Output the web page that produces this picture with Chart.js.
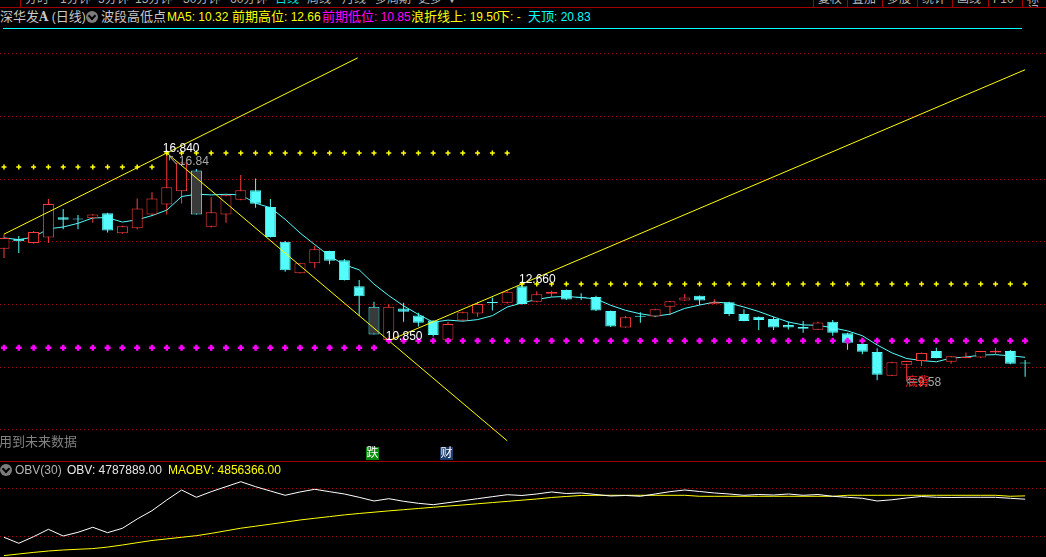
<!DOCTYPE html>
<html>
<head>
<meta charset="utf-8">
<script src="https://cdn.jsdelivr.net/npm/chart.js@4.4.1/dist/chart.umd.min.js"></script>
<style>
  body { margin: 0; background: #000; width: 1046px; height: 557px; overflow: hidden; position: relative;
         font-family: "Liberation Sans", "Noto Sans CJK SC", sans-serif; }
  .t { position: absolute; white-space: nowrap; font-size: 12px; line-height: 14px; }
  .t .c { font-size: 13px; }
  .bar { position: absolute; left: 0; top: 0; width: 1046px; height: 7px; overflow: hidden; border-bottom: 1px solid #a00000; }
  .bar span { position: absolute; top: -7px; font-size: 12px; line-height: 12px; color: #b4b4b4; }
  .sep { position: absolute; top: 0; width: 1px; height: 7px; background: #a00000; }
  .icon { position: absolute; width: 12px; height: 12px; border-radius: 50%; background: #7c7c7c; }
  .icon:after { content: ""; position: absolute; left: 3px; top: 2px; width: 4px; height: 4px;
                border-right: 2px solid #000; border-bottom: 2px solid #000; transform: rotate(45deg); }
  .tag { position: absolute; width: 13px; height: 13px; font-size: 12px; line-height: 13px; text-align: center; color: #fff; }
  canvas { position: absolute; left: 0; }
</style>
</head>
<body>
<div class="bar">
  <span style="left:25px">分时</span><span style="left:60px">1分钟</span><span style="left:98px">5分钟</span>
  <span style="left:135px">15分钟</span><span style="left:183px">30分钟</span><span style="left:230px">60分钟</span>
  <span style="left:275px;color:#00e0e0">日线</span><span style="left:307px">周线</span><span style="left:342px">月线</span>
  <span style="left:375px">多周期</span><span style="left:418px">更多</span><span style="left:446px">▼</span>
  <span style="left:818px">复权</span><span style="left:852px">叠加</span><span style="left:887px">多股</span>
  <span style="left:922px">统计</span><span style="left:957px">画线</span><span style="left:993px">F10</span><span style="left:1027px">标记</span>
</div>
<div class="sep" style="left:20px"></div>
<div class="sep" style="left:813px"></div><div class="sep" style="left:847px"></div><div class="sep" style="left:882px"></div>
<div class="sep" style="left:917px"></div><div class="sep" style="left:952px"></div><div class="sep" style="left:988px"></div>
<div class="sep" style="left:1022px"></div>

<div class="t" style="left:0;top:10px;color:#c8c8c8"><span class="c">深华发</span><b style="font-family:'DejaVu Serif'">A</b> (<span class="c">日线</span>)</div>
<div class="icon" style="left:86px;top:11px"></div>
<div class="t" style="left:101px;top:10px;color:#c8c8c8"><span class="c">波段高低点</span></div>
<div class="t" style="left:167px;top:10px;color:#ffff00">MA5: 10.32</div>
<div class="t" style="left:232px;top:10px;color:#ffff00"><span class="c">前期高位</span>: 12.66</div>
<div class="t" style="left:322px;top:10px;color:#ff00ff"><span class="c">前期低位</span>: 10.85</div>
<div class="t" style="left:411px;top:10px;color:#ffff00"><span class="c">浪折线上</span>: 19.50</div>
<div class="t" style="left:497px;top:10px;color:#ffff00"><span class="c">下</span>: -</div>
<div class="t" style="left:528px;top:10px;color:#00ffff"><span class="c">天顶</span>: 20.83</div>
<div style="position:absolute;left:3px;top:28px;width:1019px;height:1px;background:#00ffff"></div>

<canvas id="main" width="1046" height="430" style="top:30px"></canvas>

<div class="t" style="left:-1px;top:435px;color:#808080"><span class="c">用到未来数据</span></div>
<div class="tag" style="left:366px;top:447px;background:#0a8a0a">跌</div>
<div class="tag" style="left:440px;top:447px;background:#1c3c6c">财</div>
<div style="position:absolute;left:0;top:461px;width:1046px;height:1px;background:#a00000"></div>

<div class="icon" style="left:0;top:464px"></div>
<div class="t" style="left:15px;top:463px;color:#b4b4b4">OBV(30)</div>
<div class="t" style="left:67px;top:463px;color:#e6e6e6">OBV: 4787889.00</div>
<div class="t" style="left:168px;top:463px;color:#ffff00">MAOBV: 4856366.00</div>

<canvas id="obv" width="1046" height="95" style="top:462px"></canvas>

<script>
// daily candles
const opens  = [13.78,14.10,13.97,14.14,14.79,14.74,14.76,14.92,14.28,14.44,
                14.88,15.20,15.62,16.28,14.49,14.88,15.35,15.65,15.12,14.01,
                13.00,13.32,13.71,13.42,12.59,11.93,10.87,11.88,11.65,11.49,
                10.88,11.49,11.72,12.07,12.06,12.59,12.09,12.35,12.47,12.23,
                12.24,11.80,11.27,11.63,11.62,11.93,12.13,12.28,12.03,12.08,
                11.70,11.61,11.54,11.35,11.29,11.20,11.45,11.09,10.74,10.49,
                9.73,10.08,10.20,10.52,10.18,10.30,10.31,10.47,10.52,10.13];
const highs  = [14.25,14.19,14.35,15.37,15.05,14.86,14.89,14.93,14.52,15.39,
                15.59,16.84,16.56,16.33,15.43,15.50,16.14,16.03,15.37,14.03,
                13.33,13.88,13.72,13.46,12.79,12.09,12.02,12.06,11.74,11.50,
                11.45,11.78,12.09,12.23,12.43,12.66,12.43,12.44,12.48,12.36,
                12.28,11.81,11.64,11.76,11.87,12.12,12.34,12.29,12.17,12.09,
                11.85,11.62,11.61,11.45,11.48,11.45,11.51,11.10,10.75,10.61,
                10.18,10.21,10.47,10.62,10.36,10.47,10.53,10.62,10.55,10.23];
const lows   = [13.49,13.65,13.94,13.97,14.41,14.41,14.61,14.30,14.26,14.40,
                14.84,14.88,15.23,14.88,14.46,14.61,15.33,15.09,14.14,13.05,
                12.99,13.16,13.29,12.77,11.64,11.05,10.85,11.45,11.30,10.98,
                10.88,11.48,11.61,11.81,12.04,12.00,12.08,12.25,12.15,12.15,
                11.80,11.29,11.26,11.42,11.60,11.67,12.12,11.99,12.02,11.64,
                11.47,11.19,11.19,11.21,11.10,11.19,11.01,10.56,10.42,9.59,
                9.72,9.58,10.04,10.29,10.11,10.29,10.30,10.42,10.10,9.70];
const closes = [14.13,14.02,14.32,15.21,14.71,14.72,14.88,14.37,14.50,15.07,
                15.39,15.75,16.54,14.88,14.95,15.49,15.65,15.22,14.16,13.10,
                13.32,13.77,13.40,12.79,12.27,11.05,11.93,11.77,11.42,11.03,
                11.38,11.76,12.02,12.05,12.41,12.02,12.33,12.40,12.16,12.22,
                11.81,11.30,11.60,11.61,11.85,12.11,12.23,12.13,12.08,11.70,
                11.48,11.51,11.27,11.27,11.23,11.43,11.10,10.78,10.50,9.76,
                10.16,10.20,10.46,10.30,10.35,10.32,10.52,10.53,10.11,10.12];
// bars the indicator paints grey
const markedBars = [13, 25];

// stepped support / resistance levels (price, first bar)
const highLevels = [16.39, 16.84, 12.66];
const highLevelStart = [0, 11, 35];
const lowLevels = [10.62, 10.85];
const lowLevelStart = [0, 26];

// wave trend lines: anchor bar/price, second bar/price, last bar drawn
const waveFrom    = [[0, 14.25], [11, 16.84], [26, 10.85]];
const waveThrough = [[11, 16.84], [26, 10.85], [35, 12.66]];
const waveEnd     = [23.9, 34, 69];

const priceGrid = [8, 10, 12, 14, 16, 18, 20];

// OBV panel
const obv = [3994000,3869000,4006000,4160000,4021000,4098000,4202000,4090000,4181000,4375000,
             4548000,4771000,4979000,4827000,4944000,5048000,5152000,5048000,4958000,4869000,
             4938000,4994000,4944000,4896000,4827000,4750000,4798000,4744000,4702000,4673000,
             4715000,4756000,4798000,4840000,4881000,4865000,4896000,4938000,4906000,4917000,
             4885000,4854000,4865000,4848000,4896000,4944000,4979000,4948000,4917000,4896000,
             4869000,4885000,4875000,4896000,4869000,4885000,4848000,4827000,4806000,4750000,
             4775000,4813000,4844000,4827000,4823000,4827000,4827000,4827000,4806000,4787889];
const maObv = [3612000,3646000,3679000,3708000,3729000,3744000,3758000,3790000,3833000,3881000,
               3927000,3960000,3994000,4027000,4075000,4129000,4183000,4225000,4267000,4310000,
               4354000,4390000,4425000,4460000,4490000,4517000,4544000,4569000,4594000,4619000,
               4644000,4667000,4692000,4717000,4742000,4767000,4792000,4823000,4844000,4865000,
               4869000,4869000,4869000,4869000,4869000,4869000,4869000,4848000,4848000,4848000,
               4848000,4848000,4848000,4848000,4848000,4848000,4848000,4869000,4869000,4869000,
               4869000,4869000,4869000,4869000,4869000,4869000,4869000,4869000,4848000,4856366];
const obvGrid = [4000000, 5000000];

const RED = '#ff3c3c', CYAN = '#54fcfc', YELLOW = '#ffff00', MAGENTA = '#ff00ff', GRID = '#b00000';
const X_MIN = -0.27, X_MAX = 70.41;

const idx = closes.map((c, i) => i);
const up = idx.map(i => closes[i] >= opens[i]);
const ma5 = idx.map(i => {
  const s = closes.slice(Math.max(0, i - 4), i + 1);
  return s.reduce((a, b) => a + b, 0) / s.length;
});

function levelPoints(prices, starts, lastBar) {
  const pts = [];
  prices.forEach((p, k) => {
    const end = k + 1 < starts.length ? starts[k + 1] - 1 : lastBar;
    for (let i = starts[k]; i <= end; i++) pts.push({ x: i, y: p });
  });
  return pts;
}

function waveLine(k) {
  const [x0, y0] = waveFrom[k], [x1, y1] = waveThrough[k];
  const slope = (y1 - y0) / (x1 - x0);
  return [{ x: x0, y: y0 }, { x: waveEnd[k], y: y0 + slope * (waveEnd[k] - x0) }];
}

const gridY = (ticks, extra) => Object.assign({
  position: 'right',
  ticks: { display: false },
  grid: { color: GRID, lineWidth: 1, drawTicks: false },
  border: { display: false, dash: [1, 3] },
  afterBuildTicks: s => { s.ticks = ticks.map(v => ({ value: v })); }
}, extra);

const labelPlugin = {
  id: 'priceLabels',
  afterDatasetsDraw(chart) {
    const { ctx, scales: { x, y } } = chart;
    ctx.save();
    ctx.font = '12px "Liberation Sans", "Noto Sans CJK SC", sans-serif';
    ctx.textBaseline = 'alphabetic';
    ctx.fillStyle = '#ffffff';
    ctx.fillText(highs[11].toFixed(3), x.getPixelForValue(11) - 4, y.getPixelForValue(highs[11]) - 1);
    ctx.fillText(lows[26].toFixed(3), x.getPixelForValue(26) - 3, y.getPixelForValue(lows[26]) - 1);
    ctx.fillText(highs[35].toFixed(3), x.getPixelForValue(35) - 3, y.getPixelForValue(highs[35]) - 1);
    ctx.fillStyle = '#a8a8a8';
    ctx.fillText('↖' + highs[11].toFixed(2), x.getPixelForValue(11) + 0, y.getPixelForValue(highs[11]) + 12);
    ctx.fillText('⇐' + lows[61].toFixed(2), x.getPixelForValue(61) - 1, y.getPixelForValue(lows[61]) + 6);
    ctx.fillStyle = '#ff2020';
    ctx.fillText('底背', x.getPixelForValue(61) - 1, y.getPixelForValue(lows[61]) + 6);
    ctx.restore();
  }
};

const baseOptions = (yScale) => ({
  responsive: false, animation: false, devicePixelRatio: 1, events: [],
  layout: { padding: 0, autoPadding: false },
  plugins: { legend: { display: false }, tooltip: { enabled: false } },
  scales: {
    x: { type: 'linear', min: X_MIN, max: X_MAX, offset: false, display: false },
    y: yScale
  }
});

new Chart(document.getElementById('main'), {
  type: 'bar',
  data: {
    datasets: [
      { type: 'line', order: 1, data: levelPoints(highLevels, highLevelStart, 69), showLine: false,
        pointStyle: 'cross', pointRadius: 2.5, pointBorderWidth: 1.5, pointBorderColor: YELLOW },
      { type: 'line', order: 1, data: levelPoints(lowLevels, lowLevelStart, 69), showLine: false,
        pointStyle: 'cross', pointRadius: 3, pointBorderWidth: 2.5, pointBorderColor: MAGENTA },
      ...[0, 1, 2].map(k => ({ type: 'line', order: 2, data: waveLine(k), borderColor: YELLOW,
        borderWidth: 1, pointRadius: 0 })),
      { order: 4, grouped: false, barThickness: 11, minBarLength: 1, borderWidth: 1, borderSkipped: false,
        inflateAmount: 0,
        data: idx.map(i => ({ x: i, y: [opens[i], closes[i]] })),
        backgroundColor: idx.map(i => markedBars.includes(i) ? '#3a3a3a'
          : up[i] ? (Math.abs(closes[i] - opens[i]) < 0.06 ? RED : '#000') : CYAN),
        borderColor: idx.map(i => up[i] ? RED : CYAN) },
      { type: 'line', order: 5, data: idx.map(i => ({ x: i, y: ma5[i] })), borderColor: CYAN,
        borderWidth: 1, pointRadius: 0 },
      { order: 6, grouped: false, barThickness: 1, borderWidth: 0, inflateAmount: 0,
        data: idx.map(i => ({ x: i, y: [lows[i], highs[i]] })),
        backgroundColor: idx.map(i => up[i] ? RED : CYAN) }
    ]
  },
  options: baseOptions(gridY(priceGrid, { min: 7.041, max: 20.766 })),
  plugins: [labelPlugin]
});

new Chart(document.getElementById('obv'), {
  type: 'line',
  data: {
    datasets: [
      { data: idx.map(i => ({ x: i, y: obv[i] })), borderColor: '#ffffff', borderWidth: 1, pointRadius: 0 },
      { data: idx.map(i => ({ x: i, y: maObv[i] })), borderColor: YELLOW, borderWidth: 1, pointRadius: 0 }
    ]
  },
  options: baseOptions(gridY(obvGrid, { min: 3583000, max: 5562500 }))
});
</script>
</body>
</html>
